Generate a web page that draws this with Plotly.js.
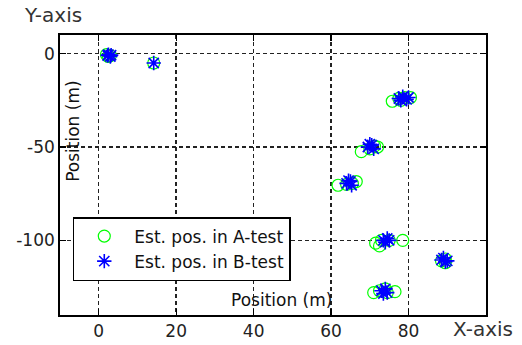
<!DOCTYPE html>
<html>
<head>
<meta charset="utf-8">
<script src="https://cdn.plot.ly/plotly-3.0.1.min.js"></script>
<style>html,body{margin:0;padding:0;background:#fff;}#chart{width:522px;height:345px;}</style>
</head>
<body>
<div id="chart"></div>
<script>
var seriesNames = ["Est. pos. in A-test", "Est. pos. in B-test"];
var aX = [2.5, 2, 3, 14.2, 75.8, 77.5, 79, 80.5, 78, 67.8, 70, 71.2, 72, 61.8, 64, 65.5, 66.5, 71.5, 73, 75, 78.5, 72.5, 88.5, 89.5, 89.5, 71, 72.5, 74.5, 76.5, 74];
var aY = [-1.5, -0.5, -1, -5, -25.5, -24, -23.5, -23.5, -25, -52.5, -51, -49.5, -50, -70.5, -70, -69.5, -68.5, -101.5, -100, -100, -100, -103, -111, -112, -110, -128, -127, -128, -127.5, -126];
var bX = [2.5, 3, 2.3, 3.2, 14.2, 77.5, 78.5, 79.5, 78, 80, 69.5, 70.5, 71, 70, 64, 65, 65.3, 64.5, 73.5, 74.5, 74, 75, 88.5, 89.5, 89, 90, 73, 74, 74.5, 73.5];
var bY = [-0.5, -1.5, -1, -0.8, -5, -24, -23, -24.5, -25, -23.5, -50, -49, -51, -48.5, -69.5, -68.5, -70.5, -68, -100, -99, -101, -100, -110.5, -111.5, -109.5, -111, -127, -126, -128, -128.5];
var xTicks = [0, 20, 40, 60, 80];
var yTicks = [0, -50, -100];

var font = "DejaVu Sans, Verdana, sans-serif";
var traces = [
  {x: aX, y: aY, mode: "markers", type: "scatter", name: seriesNames[0],
   marker: {symbol: "circle-open", size: 12, color: "#00ff00", line: {width: 1.2, color: "#00ff00"}}},
  {x: bX, y: bY, mode: "markers", type: "scatter", name: seriesNames[1],
   marker: {symbol: "asterisk-open", size: 12, color: "#0000ff", line: {width: 1.6, color: "#0000ff"}}}
];
var axisCommon = {
  showline: true, linecolor: "#000", linewidth: 1.8, mirror: "ticks",
  ticks: "inside", ticklen: 6, tickcolor: "#000", tickwidth: 1.2,
  showgrid: true, gridcolor: "#222", gridwidth: 1.5, griddash: "4px,3px",
  zeroline: false, tickfont: {family: font, size: 17, color: "#222"}
};
var layout = {
  width: 522, height: 345,
  margin: {l: 60, r: 36, t: 35, b: 30},
  paper_bgcolor: "#fff", plot_bgcolor: "#fff",
  showlegend: true,
  legend: {x: 0.03, y: 0.35, xanchor: "left", yanchor: "top",
           bgcolor: "#fff", bordercolor: "#000", borderwidth: 1.5,
           itemwidth: 50, tracegroupgap: 0,
           font: {family: font, size: 17, color: "#111"}},
  xaxis: Object.assign({}, axisCommon, {range: [-10, 100], tickvals: xTicks, ticktext: xTicks.map(String)}),
  yaxis: Object.assign({}, axisCommon, {range: [-140, 10], tickvals: yTicks, ticktext: yTicks.map(String)}),
  annotations: [
    {text: "Y-axis", xref: "paper", yref: "paper", x: -0.09, y: 1.02, xanchor: "left", yanchor: "bottom",
     showarrow: false, font: {family: font, size: 20, color: "#333"}},
    {text: "X-axis", xref: "paper", yref: "paper", x: 1.068, y: -0.05, xanchor: "right", yanchor: "middle",
     showarrow: false, font: {family: font, size: 20, color: "#333"}},
    {text: "Position (m)", xref: "paper", yref: "paper", x: 0.521, y: 0.054, xanchor: "center", yanchor: "middle",
     showarrow: false, font: {family: font, size: 17, color: "#111"}},
    {text: "Position (m)", xref: "paper", yref: "paper", x: 0.03, y: 0.657, xanchor: "center", yanchor: "middle",
     textangle: -90, showarrow: false, font: {family: font, size: 17, color: "#111"}}
  ]
};
Plotly.newPlot("chart", traces, layout, {displayModeBar: false, staticPlot: true});
</script>
</body>
</html>
